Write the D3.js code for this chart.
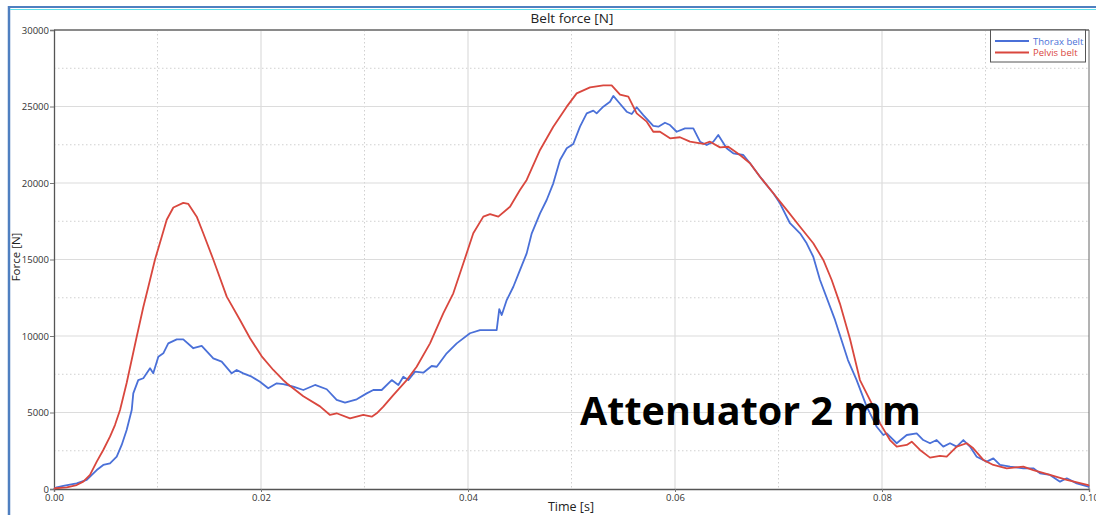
<!DOCTYPE html>
<html>
<head>
<meta charset="utf-8">
<script src="https://cdn.jsdelivr.net/npm/d3@7"></script>
<style>
  body { margin: 0; background: #fff; }
  svg { display: block; font-family: "Open Sans", "Noto Sans", sans-serif; }
</style>
</head>
<body>
<div id="chart"></div>
<script>
// values
const thoraxTime = [0, 0.00026, 0.0009, 0.00219, 0.00316, 0.00413, 0.00476, 0.00541, 0.00606, 0.00654,
  0.00702, 0.00751, 0.00766, 0.00814, 0.00863, 0.00928, 0.00959, 0.01008, 0.01056, 0.01104,
  0.01186, 0.01249, 0.01346, 0.01427, 0.01539, 0.0162, 0.01717, 0.01765, 0.01829, 0.0191,
  0.0199, 0.0207, 0.02152, 0.02215, 0.02312, 0.02409, 0.02522, 0.02635, 0.02731, 0.02812,
  0.02925, 0.03021, 0.03085, 0.03166, 0.03263, 0.03327, 0.03375, 0.03423, 0.03488, 0.03568,
  0.03649, 0.03698, 0.03794, 0.03891, 0.04019, 0.04116, 0.04277, 0.04302, 0.04326, 0.04374,
  0.04438, 0.04502, 0.04567, 0.04616, 0.04696, 0.0476, 0.04824, 0.04889, 0.04954, 0.05017,
  0.05082, 0.05147, 0.05211, 0.05243, 0.05307, 0.05372, 0.05404, 0.05452, 0.05533, 0.05582,
  0.0563, 0.05694, 0.0579, 0.05839, 0.05903, 0.05952, 0.06016, 0.06097, 0.06177, 0.06242,
  0.06306, 0.0637, 0.06418, 0.06499, 0.06563, 0.0666, 0.06725, 0.06821, 0.0695, 0.07014,
  0.07111, 0.07208, 0.07272, 0.07336, 0.07401, 0.07546, 0.07671, 0.07755, 0.07852, 0.07949,
  0.08013, 0.08046, 0.08142, 0.08239, 0.08335, 0.08399, 0.08464, 0.08528, 0.08592, 0.08657,
  0.08722, 0.08786, 0.0885, 0.08915, 0.09012, 0.09076, 0.0914, 0.09237, 0.09365, 0.09462,
  0.09527, 0.09623, 0.0972, 0.09785, 0.09881, 0.09993, 0.1];
const thoraxForce = [0, 110, 200, 370, 590, 1240, 1570, 1680, 2110, 2880,
  3860, 5160, 6250, 7120, 7240, 7890, 7560, 8650, 8870, 9520,
  9780, 9780, 9200, 9350, 8540, 8320, 7560, 7780, 7560, 7340,
  7010, 6580, 6910, 6860, 6690, 6470, 6800, 6520, 5820, 5640,
  5860, 6250, 6470, 6470, 7120, 6800, 7340, 7120, 7670, 7600,
  8040, 7990, 8870, 9520, 10180, 10390, 10390, 11750, 11370, 12350,
  13220, 14310, 15400, 16710, 18020, 18890, 19980, 21500, 22270, 22550,
  23680, 24550, 24730, 24550, 24990, 25310, 25690, 25310, 24660, 24510,
  24950, 24440, 23730, 23680, 23940, 23790, 23350, 23570, 23570, 22700,
  22480, 22700, 23140, 22270, 21940, 21830, 21290, 20410, 19330, 18670,
  17370, 16710, 16060, 15180, 13660, 11050, 8430, 7120, 5380, 4070,
  3530, 3640, 2990, 3530, 3640, 3200, 2990, 3200, 2770, 2990,
  2770, 3200, 2770, 2110, 1790, 2000, 1570, 1460, 1350, 1350,
  1030, 920, 480, 700, 370, 150, 100];

const pelvisTime = [0, 0.0001, 0.00123, 0.00219, 0.00283, 0.00348, 0.00413, 0.00476, 0.00541, 0.00589,
  0.00638, 0.00702, 0.00799, 0.00863, 0.00911, 0.00976, 0.01024, 0.01089, 0.01153, 0.01249,
  0.01298, 0.01379, 0.01443, 0.01539, 0.01669, 0.01797, 0.01894, 0.02007, 0.02119, 0.02215,
  0.02248, 0.02409, 0.0257, 0.02667, 0.02731, 0.0286, 0.02988, 0.0307, 0.03118, 0.03182,
  0.03278, 0.03408, 0.03504, 0.03633, 0.03761, 0.03858, 0.03955, 0.04051, 0.04148, 0.04213,
  0.04293, 0.04406, 0.04502, 0.04567, 0.04696, 0.04824, 0.04954, 0.0505, 0.05179, 0.05307,
  0.05388, 0.05469, 0.05549, 0.0563, 0.05727, 0.0579, 0.05855, 0.05952, 0.06048, 0.06145,
  0.06274, 0.06338, 0.06435, 0.06515, 0.06628, 0.06725, 0.06821, 0.0695, 0.07079, 0.07208,
  0.07336, 0.07433, 0.07514, 0.07594, 0.07691, 0.07787, 0.07916, 0.07981, 0.08077, 0.08142,
  0.08239, 0.08287, 0.08367, 0.08464, 0.0856, 0.08625, 0.08722, 0.08818, 0.08882, 0.08979,
  0.09076, 0.09205, 0.09365, 0.09462, 0.09623, 0.09785, 0.09993, 0.1];
const pelvisForce = [0, 50, 110, 260, 480, 920, 1790, 2550, 3420, 4180,
  5160, 6930, 9950, 11900, 13200, 15000, 16100, 17600, 18400, 18700,
  18630, 17800, 16700, 15000, 12570, 11050, 9850, 8670, 7780, 7120,
  6910, 6060, 5400, 4840, 4950, 4620, 4840, 4730, 4950, 5380,
  6140, 7120, 7990, 9520, 11480, 12790, 14750, 16710, 17800, 17970,
  17800, 18450, 19540, 20200, 22160, 23680, 24990, 25860, 26250, 26380,
  26380, 25770, 25640, 24550, 24010, 23350, 23350, 22920, 22990, 22700,
  22550, 22700, 22330, 22370, 21830, 21290, 20410, 19330, 18240, 17140,
  16060, 14970, 13660, 12100, 9800, 7120, 5380, 4290, 3200, 2770,
  2880, 3090, 2550, 2050, 2160, 2110, 2770, 2990, 2660, 1900,
  1570, 1350, 1460, 1240, 920, 590, 260, 200];

const xTicks = [0, 0.02, 0.04, 0.06, 0.08, 0.1];
const yTicks = [0, 5000, 10000, 15000, 20000, 25000, 30000];
const seriesNames = ["Thorax belt", "Pelvis belt"];
const seriesColors = ["#4a70d8", "#d9473e"];

const width = 1096, height = 515;
const margin = { left: 54, right: 7, top: 30, bottom: 26 };

const svg = d3.select("#chart").append("svg")
    .attr("width", width)
    .attr("height", height);

// window frame
svg.append("line").attr("x1", 9).attr("x2", 9).attr("y1", 6).attr("y2", height)
    .attr("stroke", "#4f7fc0").attr("stroke-width", 2.5);
svg.append("line").attr("x1", 8).attr("x2", width).attr("y1", 7).attr("y2", 7)
    .attr("stroke", "#4f7fc0").attr("stroke-width", 2);
svg.append("line").attr("x1", 10).attr("x2", width).attr("y1", 9.5).attr("y2", 9.5)
    .attr("stroke", "#5ee0ea").attr("stroke-width", 1);

const x = d3.scaleLinear().domain([0, 0.1]).range([margin.left, width - margin.right]);
const y = d3.scaleLinear().domain([0, 30000]).range([height - margin.bottom, margin.top]);

// minor dotted grid
const xMinor = d3.range(0.01, 0.1, 0.02);
const yMinor = d3.range(2500, 30000, 5000);
svg.append("g").selectAll("line").data(xMinor).enter().append("line")
    .attr("x1", d => x(d)).attr("x2", d => x(d))
    .attr("y1", y(30000)).attr("y2", y(0))
    .attr("stroke", "#d0d0d0").attr("stroke-dasharray", "1.5,2.5");
svg.append("g").selectAll("line").data(yMinor).enter().append("line")
    .attr("x1", x(0)).attr("x2", x(0.1))
    .attr("y1", d => y(d)).attr("y2", d => y(d))
    .attr("stroke", "#d0d0d0").attr("stroke-dasharray", "1.5,2.5");

// major grid
svg.append("g").selectAll("line").data(xTicks.slice(1, -1)).enter().append("line")
    .attr("x1", d => x(d)).attr("x2", d => x(d))
    .attr("y1", y(30000)).attr("y2", y(0))
    .attr("stroke", "#dcdcdc").attr("stroke-width", 1.2);
svg.append("g").selectAll("line").data(yTicks.slice(1, -1)).enter().append("line")
    .attr("x1", x(0)).attr("x2", x(0.1))
    .attr("y1", d => y(d)).attr("y2", d => y(d))
    .attr("stroke", "#dcdcdc").attr("stroke-width", 1.2);

// plot frame
svg.append("line").attr("x1", x(0)).attr("x2", x(0.1)).attr("y1", y(30000)).attr("y2", y(30000))
    .attr("stroke", "#8a8a8a").attr("stroke-width", 2);
svg.append("line").attr("x1", x(0.1)).attr("x2", x(0.1)).attr("y1", y(30000)).attr("y2", y(0))
    .attr("stroke", "#666").attr("stroke-width", 1);

// axes
const xAxis = svg.append("g")
    .attr("transform", `translate(0,${y(0)})`)
    .call(d3.axisBottom(x).tickValues(xTicks).tickFormat(d3.format(".2f")).tickSize(3));
const yAxis = svg.append("g")
    .attr("transform", `translate(${x(0)},0)`)
    .call(d3.axisLeft(y).tickValues(yTicks).tickFormat(d => d).tickSize(4).tickPadding(1));

[xAxis, yAxis].forEach(function(g) {
    g.select(".domain").attr("stroke", "#555").attr("stroke-width", 1.3);
    g.selectAll(".tick line").attr("stroke", "#777");
    g.selectAll(".tick text")
        .attr("fill", "#333")
        .style("font-size", "9.5px")
        .style("font-family", '"Open Sans", "Noto Sans", sans-serif');
});
xAxis.selectAll(".tick text").attr("dy", "0.6em");

// curves
const line = d3.line()
    .x(d => x(d[0]))
    .y(d => y(d[1]));

const thorax = thoraxTime.map((t, i) => [t, thoraxForce[i]]);
const pelvis = pelvisTime.map((t, i) => [t, pelvisForce[i]]);

svg.append("path").datum(thorax)
    .attr("d", line)
    .attr("fill", "none")
    .attr("stroke", seriesColors[0])
    .attr("stroke-width", 1.8)
    .attr("stroke-linejoin", "round");
svg.append("path").datum(pelvis)
    .attr("d", line)
    .attr("fill", "none")
    .attr("stroke", seriesColors[1])
    .attr("stroke-width", 1.8)
    .attr("stroke-linejoin", "round");

// titles
svg.append("text")
    .attr("x", 572).attr("y", 23)
    .attr("text-anchor", "middle")
    .attr("fill", "#222")
    .style("font-size", "13.5px")
    .text("Belt force [N]");
svg.append("text")
    .attr("x", 571).attr("y", 511)
    .attr("text-anchor", "middle")
    .attr("fill", "#222")
    .style("font-size", "12.5px")
    .text("Time [s]");
svg.append("text")
    .attr("transform", "translate(20,257) rotate(-90)")
    .attr("text-anchor", "middle")
    .attr("fill", "#222")
    .style("font-size", "11.5px")
    .text("Force [N]");

// legend
const legend = svg.append("g");
legend.append("rect")
    .attr("x", 990.5).attr("y", 30).attr("width", 95).attr("height", 32)
    .attr("fill", "#fff").attr("stroke", "#555").attr("stroke-width", 1);
seriesNames.forEach(function(name, i) {
    const ly = 41 + i * 11.5;
    legend.append("line")
        .attr("x1", 995).attr("x2", 1029).attr("y1", ly).attr("y2", ly)
        .attr("stroke", seriesColors[i]).attr("stroke-width", 1.8);
    legend.append("text")
        .attr("x", 1033).attr("y", ly + 3.5)
        .attr("fill", seriesColors[i])
        .style("font-size", "9.5px")
        .text(name);
});

// annotation
svg.append("text")
    .attr("x", 580).attr("y", 425)
    .attr("fill", "#000")
    .style("font-size", "39.5px")
    .style("font-weight", "bold")
    .text("Attenuator 2 mm");
</script>
</body>
</html>
